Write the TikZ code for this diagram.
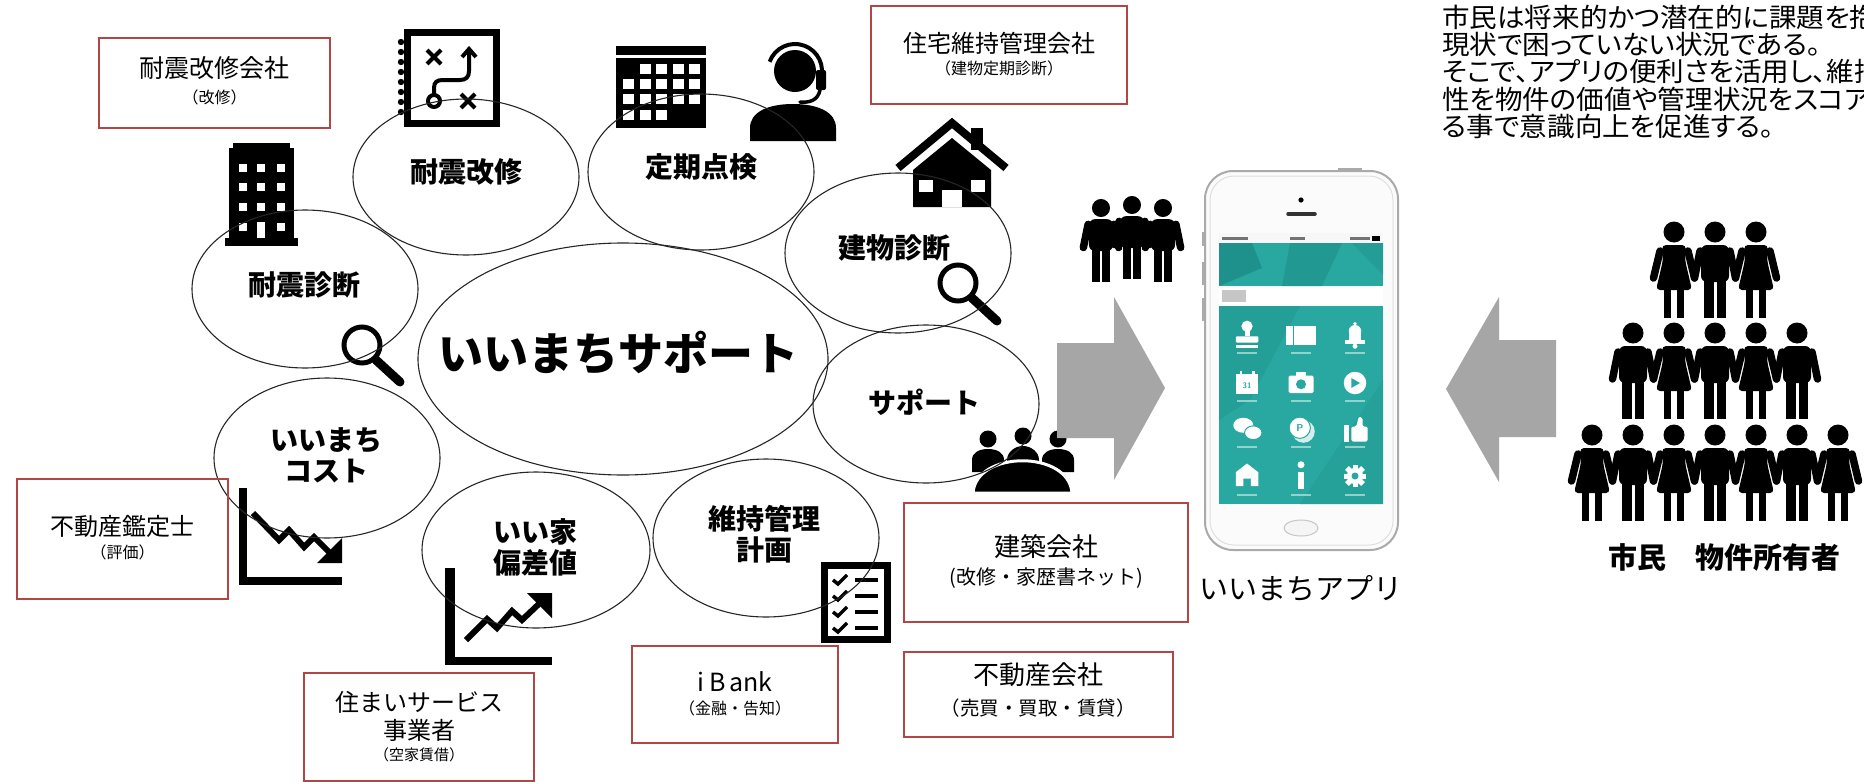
\documentclass[tikz,border=0pt]{standalone}
\usepackage{fontspec}
\usetikzlibrary{shapes.geometric}
\newfontfamily\jp{Noto Sans CJK JP}
\newfontfamily\jpp{Noto Sans CJK JP}[RawFeature={+palt}, FakeStretch=1.04]
\definecolor{boxred}{RGB}{178,70,68}
\definecolor{arrowgray}{RGB}{166,166,166}
\definecolor{tealA}{RGB}{40,168,160}
\definecolor{tealB}{RGB}{30,145,140}
\definecolor{phoneedge}{RGB}{170,170,170}

\tikzset{
  bubble/.style={ellipse, draw=black!85, line width=1.1pt, inner sep=0pt},
  redbox/.style={rectangle, draw=boxred, line width=1.3pt, inner sep=0pt},
  blbl/.style={font=\jp\bfseries\fontsize{28}{31}\selectfont, inner sep=0pt, align=center},
  ttl/.style={font=\jp\fontsize{25}{25}\selectfont, inner sep=0pt},
  sub/.style={font=\jp\fontsize{16}{16}\selectfont, inner sep=0pt},
  limb/.style={line width=7.5pt, line cap=round},
  man/.pic={
    \fill (0,0) circle (10.5);
    \fill[rounded corners=6] (-14,13) rectangle (14,50);
    \fill (-11,46) rectangle (-1.5,86);
    \fill (1.5,46) rectangle (11,86);
    \draw[limb] (-15,19) -- (-20.5,46);
    \draw[limb] (15,19) -- (20.5,46);
  },
  woman/.pic={
    \fill (0,0) circle (10.5);
    \fill[rounded corners=4] (-12,13) -- (12,13) -- (11,28) -- (18,58) -- (-18,58) -- (-11,28) -- cycle;
    \fill (-10,55) rectangle (-3,86);
    \fill (3,55) rectangle (10,86);
    \draw[limb] (-14,19) -- (-20.5,46);
    \draw[limb] (14,19) -- (20.5,46);
  }
}

\begin{document}
\begin{tikzpicture}[x=1pt,y=-1pt]
\useasboundingbox (0,0) rectangle (1864,782);
\fill[white] (0,0) rectangle (1864,782);

% ---------- icons around the circles ----------
% strategy notebook
\draw[line width=7pt] (407,32.5) rectangle (496.5,123.5);
\foreach \y in {42,52,...,112} \fill (401,\y) circle (3.2);
\draw[line width=4pt] (427,50) -- (441,64) (427,64) -- (441,50);
\draw[line width=4pt] (461,94) -- (475,108) (461,108) -- (475,94);
\draw[line width=4pt] (434,101) circle (6);
\draw[line width=4pt] (434,95) -- (434,88) .. controls (434,82) and (437,80) .. (443,80) -- (460,80) .. controls (466,80) and (469,77) .. (469,71) -- (469,51);
\draw[line width=4pt] (462,57) -- (469,49) -- (476,57);

% office building
\fill (233,143) rectangle (290,150);
\fill (229,148) rectangle (294,240);
\fill (225,238) rectangle (298,246);
\foreach \x in {243,261,281} \foreach \y in {168,187,207} \fill[white] (\x-4,\y-4) rectangle (\x+4,\y+4);
\fill[white] (239,223) rectangle (247,231);
\fill[white] (277,223) rectangle (285,231);
\fill[white] (257,222) rectangle (265,238);

% calendar
\fill (616,46) rectangle (706,55);
\fill (616,58) rectangle (706,128);
\foreach \i in {1,2,3,4} \fill[white] (623+\i*16.5,64) rectangle (634+\i*16.5,74);
\foreach \y in {79,94} \foreach \i in {0,1,2,3,4} \fill[white] (623+\i*16.5,\y) rectangle (634+\i*16.5,\y+10);
\foreach \i in {0,1,2} \fill[white] (623+\i*16.5,110) rectangle (634+\i*16.5,120);

% support person with headset
\fill (795,71) circle (21);
\draw[line width=4pt] ([shift={(200:27)}]795,71) arc (200:380:27);
\fill[rounded corners=2] (816,70) rectangle (826,90);
\draw[line width=3.5pt, line cap=round] (820,90) .. controls (818,100) and (810,103) .. (800,102);
\fill (750,141) -- (750,128) .. controls (750,112) and (768,104) .. (793,104) .. controls (818,104) and (836,112) .. (836,128) -- (836,141) -- cycle;

% house
\draw[line width=8pt, line join=miter] (898,168) -- (952,123) -- (1006,168);
\fill (971,128) rectangle (983,150);
\fill (913,207) -- (913,170) -- (952,138) -- (991,170) -- (991,207) -- cycle;
\fill[white] (919,180) rectangle (933,192);
\fill[white] (971,180) rectangle (985,192);
\fill[white] (942,190) rectangle (962,207);

% magnifiers
\draw[line width=5pt] (362,345) circle (18);
\draw[line width=9pt, line cap=round] (376,360) -- (400,382);
\draw[line width=5pt] (958,283) circle (18);
\draw[line width=9pt, line cap=round] (972,298) -- (997,321);

% falling chart
\fill (239,488) rectangle (247,585);
\fill (239,577) rectangle (342,585);
\draw[line width=6pt, line join=miter] (253,513) -- (279,540) -- (289,530) -- (304,547) -- (314,537) -- (332,555);
\fill (342,538) -- (342,563) -- (317,563) -- cycle;

% rising chart
\fill (445,568) rectangle (455,665);
\fill (445,657) rectangle (552,665);
\draw[line width=6pt, line join=miter] (466,640) -- (487,619) -- (497,628) -- (512,611) -- (522,620) -- (542,601);
\fill (527,593) -- (552,593) -- (552,618) -- cycle;

% checklist
\draw[line width=7pt] (824.5,565.5) rectangle (887.5,639.5);
\foreach \y in {580,596,612,628} {
  \draw[line width=3.5pt] (833,\y) -- (838,\y+4) -- (847,\y-5);
  \draw[line width=4pt] (855,\y) -- (878,\y);
}

% meeting group
\foreach \h/\t in {988/439,1023/436,1058/439} {
  \fill (\h,\t) circle (8.5);
  \fill (\h-16,472) -- (\h-16,460) .. controls (\h-16,452) and (\h-8,\t+10) .. (\h,\t+10) .. controls (\h+8,\t+10) and (\h+16,452) .. (\h+16,460) -- (\h+16,472) -- cycle;
}
\filldraw[draw=white, line width=3pt] (973,493) .. controls (976,450) and (1069,450) .. (1072,493) -- cycle;

% three men
\pic[scale=0.86] at (1101,208) {man};
\pic[scale=0.86] at (1163,208) {man};
\pic[scale=0.86] at (1132,205) {man};

% ---------- circles ----------
\node[bubble, minimum width=226pt, minimum height=156pt] (eKaishu) at (466,177) {};
\node[bubble, minimum width=226pt, minimum height=156pt] (eTeiki) at (701,172) {};
\node[bubble, minimum width=226pt, minimum height=160pt] (eTatemono) at (898,253) {};
\node[bubble, minimum width=226pt, minimum height=158pt] (eSupport) at (926,404) {};
\node[bubble, minimum width=226pt, minimum height=158pt] (eIji) at (766,538) {};
\node[bubble, minimum width=228pt, minimum height=156pt] (eHensachi) at (536,550) {};
\node[bubble, minimum width=226pt, minimum height=160pt] (eCost) at (327,458) {};
\node[bubble, minimum width=226pt, minimum height=158pt] (eTaishin) at (305,289) {};
\node[bubble, minimum width=410pt, minimum height=232pt] (eMain) at (623,359) {};

\node[blbl] (tKaishu) at (466,172) {耐震改修};
\node[blbl] (tTeiki) at (701,167) {定期点検};
\node[blbl] (tTatemono) at (894,248) {建物診断};
\node[blbl] (tSupport) at (924,402) {サポート};
\node[blbl] (tIji) at (764,534) {維持管理\\計画};
\node[blbl] (tHensachi) at (535,547) {いい家\\偏差値};
\node[blbl] (tCost) at (326,455) {いいまち\\コスト};
\node[blbl] (tTaishin) at (304,285) {耐震診断};
\node[font=\jp\bfseries\fontsize{45}{45}\selectfont, inner sep=0pt] (tMain) at (618,353) {いいまちサポート};

% ---------- company boxes ----------
\node[redbox, minimum width=231pt, minimum height=90pt] (bKaishu) at (214.5,83) {};
\node[ttl] (bKaishu1) at (214.5,68) {耐震改修会社};
\node[sub] (bKaishu2) at (214.5,97) {（改修）};

\node[redbox, minimum width=256pt, minimum height=98pt] (bJutaku) at (999,55) {};
\node[ttl, font=\jp\fontsize{24}{24}\selectfont] (bJutaku1) at (999,43) {住宅維持管理会社};
\node[sub] (bJutaku2) at (999,68) {（建物定期診断）};

\node[redbox, minimum width=211pt, minimum height=120pt] (bKantei) at (122.5,539) {};
\node[ttl, font=\jp\fontsize{24}{24}\selectfont] (bKantei1) at (122.5,526) {不動産鑑定士};
\node[sub] (bKantei2) at (122.5,552) {（評価）};

\node[redbox, minimum width=230pt, minimum height=108pt] (bSumai) at (419,727) {};
\node[ttl, font=\jp\fontsize{24}{24}\selectfont] (bSumai1) at (419,702) {住まいサービス};
\node[ttl, font=\jp\fontsize{24}{24}\selectfont] (bSumai2) at (419,730) {事業者};
\node[sub, font=\jp\fontsize{15}{15}\selectfont] (bSumai3) at (419,755) {（空家賃借）};

\node[redbox, minimum width=206pt, minimum height=97pt] (bBank) at (735,694.5) {};
\node[ttl] (bBank1) at (735,682) {i\hspace{5pt}B\hspace{3pt}ank};
\node[sub] (bBank2) at (735,708) {（金融・告知）};

\node[redbox, minimum width=284pt, minimum height=119pt] (bKenchiku) at (1046,562.5) {};
\node[ttl, font=\jp\fontsize{26}{26}\selectfont] (bKenchiku1) at (1046,547) {建築会社};
\node[sub, font=\jp\fontsize{20}{20}\selectfont] (bKenchiku2) at (1046,578) {(改修・家歴書ネット)};

\node[redbox, minimum width=269pt, minimum height=85pt] (bFudosan) at (1038.5,694.5) {};
\node[ttl, font=\jp\fontsize{26}{26}\selectfont] (bFudosan1) at (1038,675) {不動産会社};
\node[sub, font=\jp\fontsize{19.5}{19.5}\selectfont] (bFudosan2) at (1038,708) {（売買・買取・賃貸）};

% ---------- big arrows ----------
\fill[arrowgray] (1057,343) -- (1114,343) -- (1114,297) -- (1165,388) -- (1114,480) -- (1114,438) -- (1057,438) -- cycle;
\fill[arrowgray] (1556,340) -- (1499,340) -- (1499,297) -- (1446,389) -- (1499,482) -- (1499,437) -- (1556,437) -- cycle;

% ---------- smartphone ----------
\draw[phoneedge, line width=2pt] (1338,169) -- (1362,169);
\foreach \a/\b in {232/246,262/285,298/321} \draw[phoneedge, line width=2.5pt] (1203,\a) -- (1203,\b);
\draw[rounded corners=28pt, fill=white!97!gray, draw=phoneedge, line width=2pt] (1205,171) rectangle (1398,550);
\draw[rounded corners=24pt, draw=gray!25, line width=1pt] (1210,176) rectangle (1393,545);
\fill (1301,200) circle (2.6);
\draw[line width=3.5pt, line cap=round, black!80] (1288,214) -- (1315,214);
\draw[gray!45, fill=gray!8, line width=1pt] (1301,528) ellipse (17 and 8);
% status bar
\fill[gray!6] (1219,233) rectangle (1383,243);
\fill[black!55] (1222,237) rectangle (1248,239.5);
\fill[black!55] (1290,237) rectangle (1305,239.5);
\fill[black!55] (1350,237) rectangle (1370,239.5);
\fill[black] (1372,236) rectangle (1380,240.5);
% header
\fill[tealA] (1219,243) rectangle (1383,286);
\fill[tealB] (1219,243) -- (1252,243) -- (1262,268) -- (1219,286) -- cycle;
\fill[tealB!70!tealA] (1290,243) -- (1342,243) -- (1322,286) -- (1282,286) -- cycle;
\fill[tealB!50!tealA] (1352,243) -- (1383,243) -- (1383,275) -- cycle;
% search bar
\fill[white] (1219,288) rectangle (1383,304);
\fill[gray!45] (1222,290) rectangle (1246,302);
% icon panel
\fill[tealA] (1219,306) rectangle (1383,504);
\fill[tealB!40!tealA] (1219,306) -- (1300,306) -- (1250,400) -- (1219,420) -- cycle;
\fill[tealB!30!tealA] (1383,380) -- (1300,504) -- (1383,504) -- cycle;
% row 1: stamp, ticket, bell
\begin{scope}[shift={(1247,335)}, scale=1.25]
  \fill[white] (0,-7) circle (4.5);
  \fill[white] (-2,-4) rectangle (2,1);
  \fill[white, rounded corners=1pt] (-9,1) rectangle (9,6);
  \fill[white] (-9,8) rectangle (9,10);
\end{scope}
\begin{scope}[shift={(1301,335)}, scale=1.25]
  \fill[white] (-12,-7) rectangle (12,8);
  \draw[tealA, line width=0.8pt] (-6,-7) -- (-6,8);
\end{scope}
\begin{scope}[shift={(1355,335)}, scale=1.25]
  \fill[white] (0,-3) circle (5);
  \fill[white] (-5,-3) rectangle (5,5);
  \fill[white] (-8,4) rectangle (8,7);
  \fill[white] (0,9) circle (2);
  \fill[white] (0,-9) circle (1.5);
\end{scope}
% row 2: calendar, camera, play
\begin{scope}[shift={(1247,383)}, scale=1.25]
  \fill[white] (-9,-7) rectangle (9,9);
  \fill[white] (-6,-10) rectangle (-4,-6);
  \fill[white] (4,-10) rectangle (6,-6);
\end{scope}
\node[font=\sffamily\bfseries\fontsize{8}{8}\selectfont, text=tealA, inner sep=0pt] (calDay) at (1247,386) {31};
\begin{scope}[shift={(1301,383)}, scale=1.25]
  \fill[white, rounded corners=1.5pt] (-10,-6) rectangle (10,8);
  \fill[white] (-4,-9) rectangle (4,-6);
  \fill[tealA] (0,1) circle (4);
\end{scope}
\begin{scope}[shift={(1355,383)}, scale=1.25]
  \fill[white] (0,0) circle (9);
  \fill[tealA] (-3,-4) -- (4,0) -- (-3,4) -- cycle;
\end{scope}
% row 3: chat, coin, thumbs up
\begin{scope}[shift={(1247,429)}, scale=1.25]
  \fill[white] (-3,-3) ellipse (8 and 6);
  \filldraw[fill=white, draw=tealA, line width=1pt] (5,3) ellipse (7 and 5.5);
\end{scope}
\begin{scope}[shift={(1301,429)}, scale=1.25]
  \fill[white!80!tealA] (2,2) circle (9);
  \filldraw[fill=white, draw=tealA, line width=1pt] (-1,-1) circle (8.5);
\end{scope}
\node[text=tealA, font=\sffamily\bfseries\fontsize{10}{10}\selectfont, inner sep=0pt] (coinP) at (1300,428) {P};
\begin{scope}[shift={(1355,429)}, scale=1.25]
  \fill[white] (-9,-3) rectangle (-5,10);
  \fill[white, rounded corners=1.5pt] (-3,-2) -- (1,-2) -- (3,-10) -- (6,-9) -- (6,-2) -- (10,-2) -- (10,10) -- (-3,10) -- cycle;
\end{scope}
% row 4: home, info, settings
\begin{scope}[shift={(1247,476)}, scale=1.25]
  \fill[white] (-9,8) -- (-9,-3) -- (0,-10) -- (9,-3) -- (9,8) -- (3,8) -- (3,2) -- (-3,2) -- (-3,8) -- cycle;
\end{scope}
\begin{scope}[shift={(1301,476)}, scale=1.25]
  \fill[white] (0,-9) circle (2.8);
  \fill[white] (-2.5,-3) rectangle (2.5,10);
\end{scope}
\begin{scope}[shift={(1355,476)}, scale=1.25]
  \foreach \a in {0,45,...,315} \fill[white, rotate around={\a:(0,0)}] (-2,-9) rectangle (2,9);
  \fill[white] (0,0) circle (6.5);
  \fill[tealA] (0,0) circle (2.8);
\end{scope}
\foreach \x in {1247,1301,1355} \foreach \y in {353,401,447,495} \fill[white, opacity=0.5] (\x-10,\y-1) rectangle (\x+10,\y+1);

\node[font=\jp\fontsize{29}{29}\selectfont, inner sep=0pt] (appName) at (1301,588) {いいまちアプリ};

% ---------- citizens ----------
\pic at (1674,232) {woman};
\pic at (1715,232) {man};
\pic at (1756,232) {woman};
\pic at (1633,333) {man};
\pic at (1674,333) {woman};
\pic at (1715,333) {man};
\pic at (1756,333) {woman};
\pic at (1797,333) {man};
\pic at (1592,435) {woman};
\pic at (1633,435) {man};
\pic at (1674,435) {woman};
\pic at (1715,435) {man};
\pic at (1756,435) {woman};
\pic at (1797,435) {man};
\pic at (1838,435) {woman};
\node[font=\jp\bfseries\fontsize{29}{29}\selectfont, inner sep=0pt] (citizens) at (1724,557) {市民　物件所有者};

% ---------- note (runs past the right edge) ----------
\node[font=\jpp\fontsize{26.5}{27.2}\selectfont, anchor=north west, align=left, inner sep=0pt] (note) at (1442,5)
  {市民は将来的かつ潜在的に課題を抱\\現状で困っていない状況である。\\そこで、アプリの便利さを活用し、維持\\性を物件の価値や管理状況をスコア\\る事で意識向上を促進する。};
\end{tikzpicture}
\end{document}
